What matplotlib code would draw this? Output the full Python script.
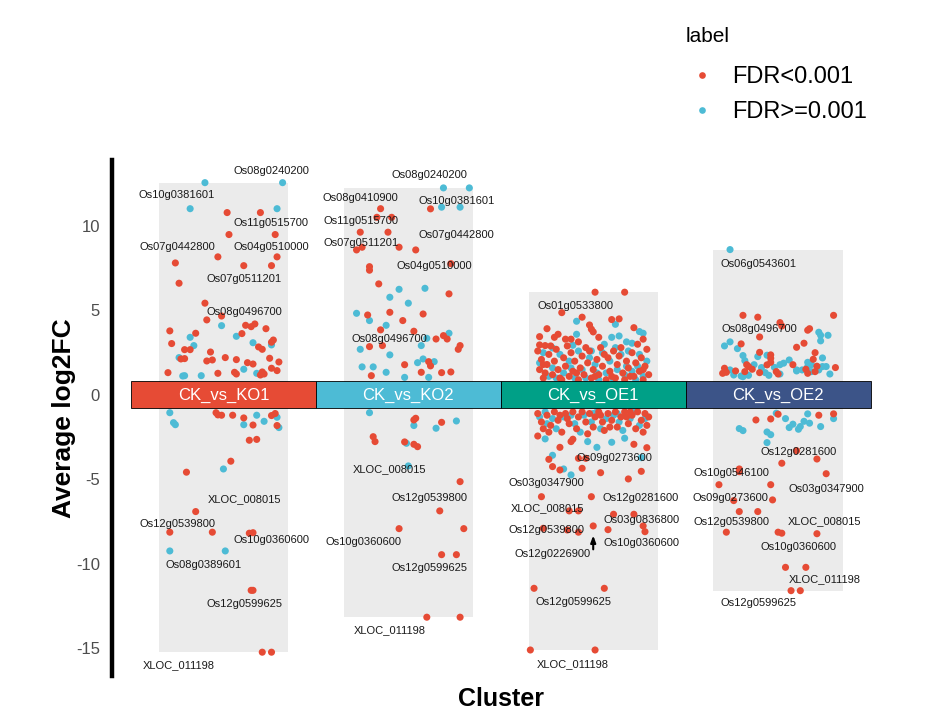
import numpy as np
import matplotlib.pyplot as plt
from matplotlib.lines import Line2D

plt.rcParams["font.family"] = ["Liberation Sans", "DejaVu Sans"]
plt.rcParams["axes.unicode_minus"] = False

# ── Données ──
clusters = ["CK_vs_KO1", "CK_vs_KO2", "CK_vs_OE1", "CK_vs_OE2"]
tile_colors = ["#E64B35", "#4DBBD5", "#00A087", "#3C5488"]
legend_labels = ["FDR<0.001", "FDR>=0.001"]
point_colors = ["#E64B35", "#4DBBD5"]

# (décalage jitter, avg log2FC) par cluster, FDR<0.001
ko1_sig = [(0.02, 10.79), (0.20, 10.79), (0.03, 9.49), (0.28, 9.49), (-0.03, 8.17), (0.29, 8.17),
           (-0.26, 7.81), (0.11, 7.65), (0.26, 7.65), (-0.24, 6.61), (-0.10, 5.43), (-0.09, 4.44),
           (-0.01, 4.67), (0.12, 4.12), (0.15, 4.04), (0.17, 4.20), (0.23, 3.92), (0.10, 3.63),
           (-0.29, 3.79), (-0.15, 3.65), (-0.28, 3.04), (0.27, 3.25), (0.26, 3.12), (0.19, 2.84),
           (0.21, 2.70), (-0.21, 2.68), (-0.18, 2.68), (-0.07, 2.54), (-0.21, 2.15), (-0.23, 2.13),
           (-0.09, 2.01), (-0.06, 2.07), (0.01, 2.21), (0.07, 2.09), (0.25, 2.17), (0.13, 1.91),
           (0.16, 1.83), (0.30, 1.95), (0.26, 1.58), (0.29, 1.44), (-0.30, 1.32), (-0.03, 1.28),
           (0.06, 1.34), (0.07, 1.24), (0.21, 1.36), (0.22, 1.24), (0.20, 1.18),
           (-0.04, -1.05), (-0.03, -1.18), (-0.01, -1.20), (0.05, -1.20), (0.11, -1.36), (0.26, -1.22),
           (0.28, -1.10), (0.16, -1.78), (0.29, -1.81), (0.14, -2.68), (0.18, -2.63), (0.04, -3.92),
           (-0.20, -4.57), (-0.15, -6.90), (-0.29, -8.12), (-0.06, -8.12), (0.14, -8.18), (0.16, -8.15),
           (0.15, -11.56), (0.16, -11.56), (0.21, -15.22), (0.26, -15.22)]
ko1_ns = [(-0.10, 12.56), (0.32, 12.56), (-0.18, 11.02), (0.29, 11.02), (-0.01, 4.10), (0.07, 3.47),
          (-0.18, 3.41), (-0.16, 2.92), (0.16, 3.09), (0.26, 2.96), (-0.24, 2.21), (0.11, 1.52),
          (-0.22, 1.12), (-0.21, 1.14), (-0.12, 1.14), (0.18, 1.28),
          (-0.29, -1.05), (-0.27, -1.64), (-0.26, -1.76), (0.18, -1.20), (0.29, -1.32), (0.11, -1.76),
          (0.22, -1.56), (0.30, -1.93), (0.00, -4.38), (-0.29, -9.23), (0.01, -9.23)]

ko2_sig = [(0.12, 11.01), (-0.15, 11.02), (-0.17, 10.51), (-0.09, 10.51), (-0.26, 9.63), (-0.11, 9.63),
           (-0.28, 8.58), (-0.25, 8.74), (-0.05, 8.74), (0.04, 8.58), (0.23, 7.77), (-0.21, 7.59),
           (-0.21, 7.38), (-0.16, 6.57), (0.22, 5.98), (-0.22, 4.73), (-0.10, 4.89), (0.08, 4.79),
           (-0.03, 4.40), (-0.15, 3.85), (0.03, 3.77), (0.15, 3.31), (0.19, 3.51), (0.21, 3.31),
           (-0.21, 2.86), (-0.14, 2.92), (0.28, 2.92), (0.27, 2.70), (0.11, 1.97), (0.12, 1.72),
           (-0.02, 1.79), (-0.20, 1.14), (0.07, 1.34), (0.18, 1.32), (0.23, 1.36),
           (0.03, -1.48), (0.04, -1.38), (0.18, -1.62), (-0.19, -2.47), (-0.18, -2.76), (-0.02, -2.78),
           (0.03, -2.92), (0.05, -3.06), (0.28, -5.13), (0.17, -6.86), (-0.05, -7.91), (0.30, -7.91),
           (0.18, -9.45), (0.26, -9.45), (0.10, -13.15), (0.28, -13.15)]
ko2_ns = [(0.19, 12.25), (0.33, 12.25), (0.18, 11.11), (0.28, 11.11), (-0.05, 6.25), (0.09, 6.31),
          (-0.10, 5.78), (0.00, 5.43), (-0.28, 4.83), (-0.21, 4.40), (-0.12, 4.12), (0.10, 3.35),
          (0.22, 3.65), (-0.26, 2.70), (0.07, 2.92), (-0.10, 2.37), (0.08, 2.13), (0.05, 1.91),
          (0.14, 1.97), (-0.25, 1.66), (-0.19, 1.66), (-0.12, 1.34), (-0.02, 1.04), (0.11, 1.04),
          (-0.21, -1.05), (0.03, -1.81), (0.15, -1.97), (0.26, -1.54), (-0.01, -2.86), (0.00, -4.20)]

oe1_sig = [(0.01, 6.08), (0.17, 6.08), (-0.17, 4.87), (-0.06, 4.60), (0.10, 4.46), (0.14, 4.50),
           (-0.02, 4.14), (-0.01, 3.89), (0.00, 3.73), (-0.25, 3.92), (0.22, 3.98), (-0.29, 3.45),
           (-0.21, 3.41), (-0.19, 3.59), (-0.15, 3.30), (-0.12, 3.30), (0.03, 3.41), (0.27, 3.30),
           (-0.29, 2.96), (-0.26, 2.92), (-0.08, 3.14),
           (-0.30, 2.6), (-0.28, 2.1), (-0.29, 1.5), (-0.27, 1.0), (-0.25, 1.8), (-0.24, 2.4),
           (-0.22, 1.2), (-0.21, 2.0), (-0.20, 2.7), (-0.19, 1.5), (-0.17, 0.9), (-0.16, 2.2),
           (-0.15, 1.7), (-0.13, 1.1), (-0.12, 2.5), (-0.11, 1.4), (-0.10, 2.0), (-0.08, 0.9),
           (-0.07, 1.6), (-0.06, 2.3), (-0.05, 1.2), (-0.03, 1.9), (-0.02, 2.6), (-0.01, 1.0),
           (0.00, 1.5), (0.02, 2.1), (0.03, 1.2), (0.04, 2.8), (0.05, 1.7), (0.07, 0.9),
           (0.08, 2.2), (0.09, 1.4), (0.11, 2.6), (0.12, 1.0), (0.13, 1.8), (0.14, 2.3),
           (0.16, 1.3), (0.17, 0.9), (0.18, 2.0), (0.19, 1.6), (0.21, 2.5), (0.22, 1.1),
           (0.23, 1.9), (0.25, 1.4), (0.26, 2.2), (0.27, 0.9), (0.28, 1.7), (0.29, 2.7),
           (0.30, 1.2), (-0.26, 1.3), (-0.18, 1.0), (-0.09, 1.3), (0.01, 1.1), (0.10, 1.1),
           (0.20, 1.1), (-0.23, 2.9), (-0.04, 2.8), (0.15, 2.8), (0.24, 3.0), (-0.14, 2.9),
           (0.06, 2.4), (-0.27, 1.8), (0.27, 1.5),
           (-0.30, -1.1), (-0.28, -1.6), (-0.27, -2.0), (-0.25, -1.2), (-0.23, -1.8), (-0.21, -1.0),
           (-0.19, -1.5), (-0.17, -2.2), (-0.15, -1.1), (-0.13, -1.7), (-0.11, -1.0), (-0.09, -2.0),
           (-0.08, -1.3), (-0.06, -1.0), (-0.04, -1.6), (-0.02, -1.1), (0.00, -1.9), (0.01, -1.3),
           (0.03, -1.0), (0.05, -1.6), (0.06, -2.1), (0.08, -1.1), (0.10, -1.5), (0.12, -1.0),
           (0.13, -1.9), (0.15, -1.3), (0.17, -1.0), (0.19, -1.7), (0.21, -1.2), (0.23, -2.0),
           (0.24, -1.0), (0.26, -1.5), (0.28, -1.1), (0.29, -1.8), (0.30, -1.3), (-0.24, -2.2),
           (-0.14, -1.4), (-0.03, -2.3), (0.09, -1.9), (0.18, -1.3), (0.27, -2.2), (-0.18, -1.2),
           (0.04, -1.2), (0.20, -1.0),
           (-0.30, -2.43), (-0.18, -3.10), (-0.12, -2.76), (-0.11, -2.62), (0.22, -2.92), (0.29, -3.12),
           (-0.24, -3.81), (-0.22, -4.24), (-0.18, -4.44), (-0.06, -4.34), (-0.08, -3.75), (-0.04, -3.75),
           (0.04, -4.60), (0.26, -4.52), (0.19, -4.97), (-0.28, -6.02), (-0.01, -6.02), (-0.13, -6.86),
           (-0.08, -6.86), (0.11, -7.06), (0.22, -7.06), (-0.14, -7.99), (-0.08, -8.12), (-0.27, -7.89),
           (0.00, -7.75), (0.08, -7.97), (0.27, -7.75), (0.28, -8.09), (-0.32, -11.44), (0.06, -11.44),
           (-0.34, -15.09), (0.01, -15.09)]
oe1_ns = [(-0.09, 4.36), (0.12, 4.18), (-0.09, 3.59), (0.25, 3.75), (0.27, 3.65), (0.10, 3.41),
          (0.14, 3.49), (0.06, 3.00), (0.18, 3.14), (0.21, 3.06), (-0.11, 2.94), (-0.22, 2.78),
          (-0.29, 1.9), (-0.27, 2.5), (-0.24, 1.1), (-0.22, 1.6), (-0.18, 2.4), (-0.16, 1.3),
          (-0.13, 2.0), (-0.10, 1.0), (-0.08, 2.6), (-0.06, 1.5), (-0.04, 1.0), (-0.02, 2.2),
          (0.01, 1.8), (0.03, 0.9), (0.05, 2.5), (0.07, 1.3), (0.09, 2.0), (0.11, 0.9),
          (0.13, 1.5), (0.15, 2.4), (0.17, 1.2), (0.19, 2.6), (0.21, 1.4), (0.23, 0.9),
          (0.25, 2.4), (0.27, 1.1), (0.29, 2.0), (-0.20, 1.0), (-0.12, 1.6), (0.02, 1.3),
          (0.18, 1.7), (0.24, 1.7), (-0.01, 2.6), (0.12, 2.8),
          (-0.29, -1.3), (-0.26, -1.0), (-0.22, -1.4), (-0.20, -2.0), (-0.16, -1.3), (-0.12, -1.2),
          (-0.10, -1.7), (-0.07, -2.2), (-0.05, -1.2), (-0.01, -1.6), (0.02, -1.0), (0.04, -2.0),
          (0.07, -1.4), (0.11, -1.2), (0.14, -1.6), (0.16, -2.1), (0.20, -1.4), (0.22, -1.0),
          (0.25, -1.8), (0.28, -1.4), (-0.25, -1.7), (0.00, -1.1), (0.13, -1.1),
          (-0.26, -2.60), (-0.03, -2.76), (0.02, -3.10), (0.10, -2.80), (0.17, -2.56), (-0.22, -3.57),
          (-0.16, -4.38), (-0.12, -4.73), (0.26, -3.71)]

oe2_sig = [(-0.19, 4.71), (-0.11, 4.60), (0.30, 4.71), (0.01, 4.28), (0.02, 4.08), (0.16, 3.83),
           (0.17, 3.92), (-0.10, 3.43), (-0.20, 3.02), (0.14, 3.06), (0.10, 2.82), (0.20, 2.50),
           (-0.04, 2.37), (-0.04, 2.17), (-0.10, 2.52), (-0.17, 1.79), (-0.16, 1.68), (-0.06, 1.78),
           (-0.04, 1.93), (0.08, 1.79), (0.19, 2.11), (0.21, 1.70), (0.31, 1.62), (-0.29, 1.58),
           (-0.30, 1.28), (-0.28, 1.34), (-0.23, 1.42), (-0.18, 1.38), (-0.14, 1.52), (-0.10, 1.32),
           (-0.01, 1.38), (0.00, 1.24), (0.15, 1.52), (0.16, 1.28), (0.20, 1.38),
           (0.00, -1.14), (-0.12, -1.48), (-0.04, -1.42), (0.22, -1.20), (0.30, -1.12), (0.10, -3.30),
           (0.21, -3.79), (0.02, -4.04), (-0.21, -4.38), (-0.21, -4.54), (0.26, -4.66), (-0.32, -5.31),
           (-0.04, -5.31), (-0.24, -6.25), (-0.03, -6.21), (-0.21, -6.90), (-0.11, -6.90), (-0.28, -8.12),
           (0.00, -8.12), (0.02, -8.18), (0.21, -8.21), (0.04, -10.20), (0.15, -10.20), (0.07, -11.58),
           (0.12, -11.58)]
oe2_ns = [(-0.26, 8.60), (0.22, 3.71), (0.23, 3.53), (0.27, 3.53), (-0.29, 2.90), (-0.26, 3.14),
          (-0.22, 2.74), (0.23, 3.20), (-0.19, 2.33), (-0.06, 2.35), (-0.11, 2.27), (-0.18, 2.03),
          (-0.13, 1.79), (-0.09, 1.62), (-0.02, 1.63), (0.01, 1.79), (0.03, 1.88), (0.06, 2.07),
          (0.10, 1.48), (0.13, 1.48), (0.16, 1.93), (0.16, 1.68), (0.18, 1.79), (0.24, 2.19),
          (0.22, 1.48), (0.24, 1.68), (0.26, 1.68), (0.28, 1.24), (-0.26, 1.48), (-0.24, 1.18),
          (-0.20, 1.12), (-0.19, 1.08), (-0.16, 1.16), (-0.05, 1.16), (-0.07, 1.32), (0.01, 1.24),
          (0.10, 1.42), (0.18, 1.38),
          (-0.01, -1.08), (0.04, -1.40), (-0.21, -1.99), (-0.19, -2.11), (-0.06, -2.19), (-0.04, -2.35),
          (-0.06, -2.82), (0.06, -1.93), (0.08, -1.73), (0.11, -2.03), (0.12, -1.87), (0.14, -1.56),
          (0.16, -1.12), (0.17, -1.67), (0.23, -1.87), (0.30, -1.40)]

sig_sets = [ko1_sig, ko2_sig, oe1_sig, oe2_sig]
ns_sets = [ko1_ns, ko2_ns, oe1_ns, oe2_ns]

# gènes annotés : (cluster, gène, x, y) — positions des étiquettes (repel)
gene_labels = [
    (1, "Os08g0240200", 1.257, 13.25), (1, "Os10g0381601", 0.749, 11.83),
    (1, "Os11g0515700", 1.257, 10.20), (1, "Os07g0442800", 0.749, 8.76),
    (1, "Os04g0510000", 1.257, 8.76), (1, "Os07g0511201", 1.111, 6.86),
    (1, "Os08g0496700", 1.114, 4.91), (1, "XLOC_008015", 1.116, -6.15),
    (1, "Os12g0539800", 0.751, -7.63), (1, "Os10g0360600", 1.259, -8.58),
    (1, "Os08g0389601", 0.895, -10.06), (1, "Os12g0599625", 1.114, -12.37),
    (1, "XLOC_011198", 0.757, -15.98),
    (2, "Os08g0240200", 2.114, 13.02), (2, "Os08g0410900", 1.743, 11.67),
    (2, "Os10g0381601", 2.259, 11.48), (2, "Os11g0515700", 1.746, 10.30),
    (2, "Os07g0442800", 2.259, 9.47), (2, "Os07g0511201", 1.743, 9.01),
    (2, "Os04g0510000", 2.143, 7.63), (2, "Os08g0496700", 1.897, 3.30),
    (2, "XLOC_008015", 1.897, -4.38), (2, "Os12g0539800", 2.114, -6.08),
    (2, "Os10g0360600", 1.759, -8.70), (2, "Os12g0599625", 2.114, -10.24),
    (2, "XLOC_011198", 1.897, -13.91),
    (3, "Os01g0533800", 2.903, 5.28), (3, "Os09g0273600", 3.114, -3.71),
    (3, "Os03g0347900", 2.749, -5.22), (3, "Os12g0281600", 3.259, -6.08),
    (3, "XLOC_008015", 2.754, -6.70), (3, "Os03g0836800", 3.259, -7.40),
    (3, "Os12g0539800", 2.749, -7.97), (3, "Os10g0360600", 3.262, -8.78),
    (3, "Os12g0226900", 2.778, -9.41), (3, "Os12g0599625", 2.895, -12.23),
    (3, "XLOC_011198", 2.892, -15.93),
    (4, "Os06g0543601", 3.895, 7.73), (4, "Os08g0496700", 3.897, 3.89),
    (4, "Os12g0281600", 4.111, -3.36), (4, "Os10g0546100", 3.746, -4.63),
    (4, "Os03g0347900", 4.259, -5.56), (4, "Os09g0273600", 3.743, -6.08),
    (4, "XLOC_008015", 4.251, -7.44), (4, "Os12g0539800", 3.746, -7.53),
    (4, "Os10g0360600", 4.111, -8.98), (4, "XLOC_011198", 4.251, -10.91),
    (4, "Os12g0599625", 3.895, -12.33),
]

# ── Figure ──
fig = plt.figure(figsize=(9.39, 7.28), dpi=100)
ax = fig.add_axes([0.1198, 0.0714, 0.827, 0.7088])

xpos = np.arange(1, len(clusters) + 1)

# fonds gris : étendue min-max de chaque cluster
for i, (sig, ns) in enumerate(zip(sig_sets, ns_sets)):
    ys = [p[1] for p in sig + ns]
    ax.bar(xpos[i], max(ys) - min(ys), bottom=min(ys), width=0.7,
           color="#EBEBEB", zorder=1)

# points
for i, (sig, ns) in enumerate(zip(sig_sets, ns_sets)):
    for pts, col in [(ns, point_colors[1]), (sig, point_colors[0])]:
        arr = np.array(pts)
        ax.scatter(xpos[i] + arr[:, 0], arr[:, 1], s=26, color=col,
                   edgecolors="none", zorder=2)

# tuiles des clusters
ax.bar(xpos, 1.6, bottom=-0.8, width=1.0, color=tile_colors,
       edgecolor="black", linewidth=0.6, zorder=3)
for x, name in zip(xpos, clusters):
    ax.text(x, 0, name, ha="center", va="center", color="white",
            fontsize=12, zorder=4)

# étiquettes des gènes
for _, gene, gx, gy in gene_labels:
    ax.text(gx, gy, gene, ha="center", va="center", fontsize=8,
            color="#1a1a1a", zorder=5)

ax.annotate("", xy=(3.0, -8.15), xytext=(3.0, -9.3),
            arrowprops=dict(arrowstyle="-|>,head_length=0.4,head_width=0.15",
                            color="black", lw=1.5), zorder=5)

ax.set_xlim(0.4, 4.6)
ax.set_ylim(-16.63, 13.9)
ax.set_xticks([])
ax.set_yticks([-15, -10, -5, 0, 5, 10])
ax.tick_params(axis="y", length=0, pad=9, labelsize=12, labelcolor="#4d4d4d")
for side in ["top", "right", "bottom"]:
    ax.spines[side].set_visible(False)
ax.spines["left"].set_linewidth(3.2)
ax.set_facecolor("none")

ax.set_ylabel("Average log2FC", fontsize=19, fontweight="bold", labelpad=0)
ax.set_xlabel("Cluster", fontsize=18, fontweight="bold", labelpad=8)

# légende
fig.text(686 / 939, 1 - 37 / 728, "label", fontsize=15, ha="left", va="center")
handles = [Line2D([], [], marker="o", linestyle="none", markersize=4.8,
                  markerfacecolor=c, markeredgecolor="none") for c in point_colors]
fig.legend(handles, legend_labels, loc="upper left",
           bbox_to_anchor=(674 / 939, 1 - 54 / 728), frameon=False,
           fontsize=17, borderpad=0, handlelength=1.4, handletextpad=0.55,
           labelspacing=0.55)

plt.savefig("out.png", dpi=100)
